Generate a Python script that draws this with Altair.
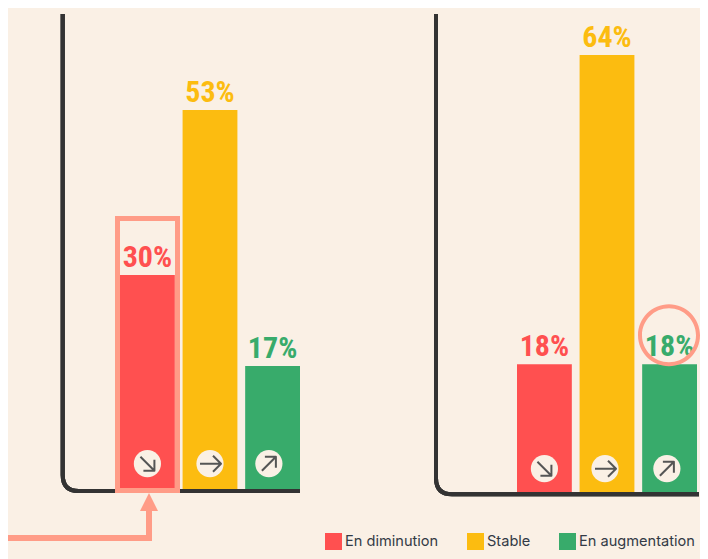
import altair as alt
import pandas as pd

# --- data ---
categories = ["En diminution", "Stable", "En augmentation"]
labels_left = ["30%", "53%", "17%"]
labels_right = ["18%", "64%", "18%"]
heights_left = [30.0, 53.0, 17.3]
heights_right = [18.8, 64.0, 18.8]

# --- style ---
BG = "#FAF0E5"
INK = "#333333"
PINK = "#FF9C87"
ARROW = "#555555"
COLORS = ["#FF5050", "#FCBC10", "#38AB6B"]
LABEL_FONT = "Roboto Condensed, DejaVu Sans Condensed, Liberation Sans"
ICONS = ["M-7,-7 L7,7 M7,-4 L7,7 L-4,7", "M-10,0 L10,0 M3,-8 L11,0 L3,8", "M-7,7 L7,-7 M-4,-7 L7,-7 L7,4"]
RING = ("M-31,0 A31,31 0 1 1 31,0 A31,31 0 1 1 -31,0 Z "
        "M-27,0 A27,27 0 1 0 27,0 A27,27 0 1 0 -27,0 Z")
PW_L, PW_R, PH = 350, 342, 551


def panel(pw, values, labels, x_range, y_range, y_top, axis_x, axis_end, axis_bottom, icon_y, icon_off, extras):
    df = pd.DataFrame({"cat": categories, "v": values, "label": labels})
    x = alt.X("cat:N", axis=None, sort=categories,
              scale=alt.Scale(type="band", domain=categories, range=x_range,
                              paddingInner=0.124, paddingOuter=0))
    y = alt.Y("v:Q", axis=None, scale=alt.Scale(domain=[0, y_top], range=y_range, nice=False, zero=True))
    color = alt.Color("cat:N", sort=categories,
                      scale=alt.Scale(domain=categories, range=COLORS),
                      legend=alt.Legend(title=None, orient="none", direction="horizontal",
                                        legendX=317, legendY=525, symbolType="square",
                                        symbolSize=289, symbolStrokeWidth=0, symbolOpacity=1,
                                        labelFont="Inter", labelFontSize=14.6, labelColor="#333A45",
                                        labelOffset=3, columnPadding=28, labelLimit=200))
    base = alt.Chart(df)
    bars = base.mark_bar().encode(x=x, y=y, color=color)
    text = base.mark_text(font=LABEL_FONT, fontWeight="bold", fontSize=30, dy=-8,
                          baseline="alphabetic", align="center").encode(
        x=x, y=y, text="label:N", color=alt.Color("cat:N", sort=categories, legend=None))
    w = axis_end - axis_x
    h = axis_bottom - 6
    # rounded L shape as a filled outline, 4 px thick
    path = (f"M-2,0 L2,0 L2,{h-16} Q2,{h-2} 16,{h-2} L{w},{h-2} L{w},{h+2} "
            f"L16,{h+2} Q-2,{h+2} -2,{h-16} Z")
    axis_line = base.mark_point(shape=path, size=4, filled=True, fill=INK, opacity=1,
                                strokeWidth=0).encode(x=alt.value(axis_x), y=alt.value(6))
    layers = [bars, axis_line, text]
    for i, c in enumerate(categories):
        one = alt.Chart(df[df.cat == c])
        layers.append(one.mark_point(shape="circle", size=740, filled=True, fill=BG, opacity=1,
                                     strokeWidth=0, xOffset=icon_off[i]).encode(x=x, y=alt.value(icon_y)))
        layers.append(one.mark_point(shape=ICONS[i], size=4, filled=False, opacity=1, stroke=ARROW,
                                     strokeWidth=2, strokeJoin="round",
                                     xOffset=icon_off[i]).encode(x=x, y=alt.value(icon_y)))
    layers.extend(extras)
    return alt.layer(*layers).properties(width=pw, height=PH)


dummy = alt.Chart(pd.DataFrame({"a": [0]}))
highlight_box = dummy.mark_rect(fill="transparent", stroke=PINK, strokeWidth=5).encode(
    x=alt.value(109.5), x2=alt.value(169.5), y=alt.value(210.5), y2=alt.value(482.5))
pointer_h = dummy.mark_rect(fill=PINK).encode(
    x=alt.value(0), x2=alt.value(144), y=alt.value(527), y2=alt.value(533))
pointer_v = dummy.mark_rect(fill=PINK).encode(
    x=alt.value(138), x2=alt.value(144), y=alt.value(500), y2=alt.value(533))
pointer_head = dummy.mark_point(shape="M-9,9 L0,-9 L9,9 Z", size=4, filled=True, fill=PINK, opacity=1,
                                strokeWidth=0).encode(x=alt.value(141), y=alt.value(494))
highlight_circle = dummy.mark_point(shape=RING, size=4, filled=True, fill=PINK, opacity=1,
                                    strokeWidth=0).encode(x=alt.value(311), y=alt.value(327.3))

left = panel(PW_L, heights_left, labels_left, [112, 292], [482, 102], 53, 54.7, 292, 483,
             455.7, [0, 0, -3.7], [highlight_box, pointer_h, pointer_v, pointer_head])
right = panel(PW_R, heights_right, labels_right, [159, 339], [485, 47], 64, 78, 341, 486.3,
              460.7, [0, -2, -2.7], [highlight_circle])

chart = alt.hconcat(left, right, spacing=0).properties(
    padding=0, background=BG
).configure_view(strokeWidth=0)

chart.save("out.html", embed_options={"renderer": "svg", "actions": False})
